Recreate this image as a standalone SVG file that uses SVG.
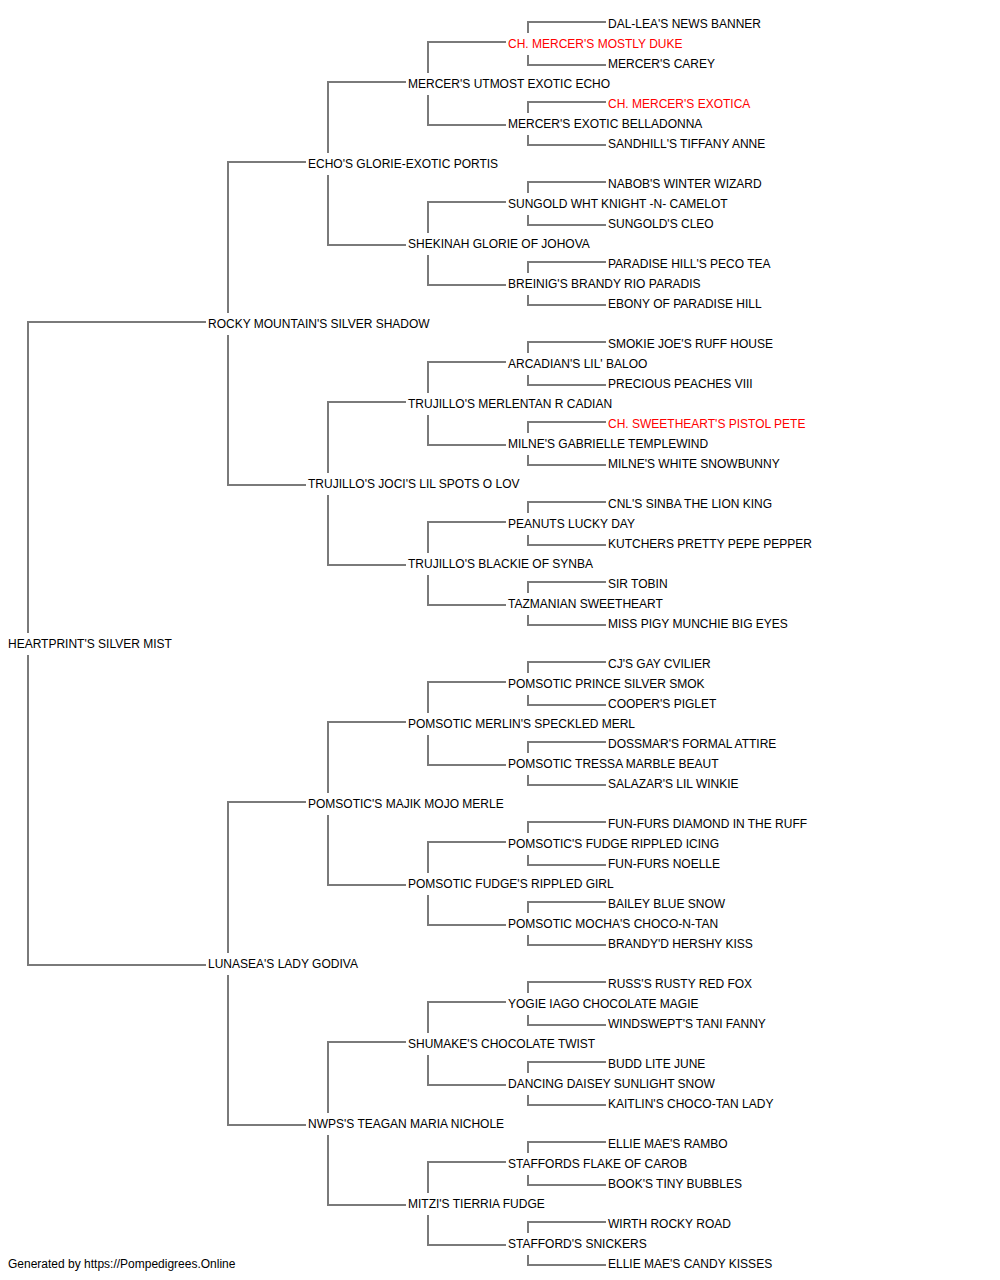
<svg xmlns="http://www.w3.org/2000/svg" width="1000" height="1280" viewBox="0 0 1000 1280">
<style>
text{font-family:"Liberation Sans",Arial,sans-serif;font-size:12px;fill:#000}
text.ch{fill:#ff0000}
#connectors path{fill:none;stroke:#7a7a7a;stroke-width:2}
</style>
<rect width="1000" height="1280" fill="#fff"/>
<g id="connectors">
<path d="M206,322H28V633M28,655V965H206"/>
<path d="M306,162H228V313M228,335V485H306"/>
<path d="M306,802H228V953M228,975V1125H306"/>
<path d="M406,82H328V153M328,175V245H406"/>
<path d="M406,402H328V473M328,495V565H406"/>
<path d="M406,722H328V793M328,815V885H406"/>
<path d="M406,1042H328V1113M328,1135V1205H406"/>
<path d="M506,42H428V73M428,95V125H506"/>
<path d="M506,202H428V233M428,255V285H506"/>
<path d="M506,362H428V393M428,415V445H506"/>
<path d="M506,522H428V553M428,575V605H506"/>
<path d="M506,682H428V713M428,735V765H506"/>
<path d="M506,842H428V873M428,895V925H506"/>
<path d="M506,1002H428V1033M428,1055V1085H506"/>
<path d="M506,1162H428V1193M428,1215V1245H506"/>
<path d="M606,22H528V33M528,55V65H606"/>
<path d="M606,102H528V113M528,135V145H606"/>
<path d="M606,182H528V193M528,215V225H606"/>
<path d="M606,262H528V273M528,295V305H606"/>
<path d="M606,342H528V353M528,375V385H606"/>
<path d="M606,422H528V433M528,455V465H606"/>
<path d="M606,502H528V513M528,535V545H606"/>
<path d="M606,582H528V593M528,615V625H606"/>
<path d="M606,662H528V673M528,695V705H606"/>
<path d="M606,742H528V753M528,775V785H606"/>
<path d="M606,822H528V833M528,855V865H606"/>
<path d="M606,902H528V913M528,935V945H606"/>
<path d="M606,982H528V993M528,1015V1025H606"/>
<path d="M606,1062H528V1073M528,1095V1105H606"/>
<path d="M606,1142H528V1153M528,1175V1185H606"/>
<path d="M606,1222H528V1233M528,1255V1265H606"/>
</g>
<g id="n0"><text x="8" y="647.5">HEARTPRINT'S SILVER MIST</text></g>
<g id="n1"><text x="208" y="327.5">ROCKY MOUNTAIN'S SILVER SHADOW</text></g>
<g id="n2"><text x="208" y="967.5">LUNASEA'S LADY GODIVA</text></g>
<g id="n3"><text x="308" y="167.5">ECHO'S GLORIE-EXOTIC PORTIS</text></g>
<g id="n4"><text x="308" y="487.5">TRUJILLO'S JOCI'S LIL SPOTS O LOV</text></g>
<g id="n5"><text x="308" y="807.5">POMSOTIC'S MAJIK MOJO MERLE</text></g>
<g id="n6"><text x="308" y="1127.5">NWPS'S TEAGAN MARIA NICHOLE</text></g>
<g id="n7"><text x="408" y="87.5">MERCER'S UTMOST EXOTIC ECHO</text></g>
<g id="n8"><text x="408" y="247.5">SHEKINAH GLORIE OF JOHOVA</text></g>
<g id="n9"><text x="408" y="407.5">TRUJILLO'S MERLENTAN R CADIAN</text></g>
<g id="n10"><text x="408" y="567.5">TRUJILLO'S BLACKIE OF SYNBA</text></g>
<g id="n11"><text x="408" y="727.5">POMSOTIC MERLIN'S SPECKLED MERL</text></g>
<g id="n12"><text x="408" y="887.5">POMSOTIC FUDGE'S RIPPLED GIRL</text></g>
<g id="n13"><text x="408" y="1047.5">SHUMAKE'S CHOCOLATE TWIST</text></g>
<g id="n14"><text x="408" y="1207.5">MITZI'S TIERRIA FUDGE</text></g>
<g id="n15"><text class="ch" x="508" y="47.5">CH. MERCER'S MOSTLY DUKE</text></g>
<g id="n16"><text x="508" y="127.5">MERCER'S EXOTIC BELLADONNA</text></g>
<g id="n17"><text x="508" y="207.5">SUNGOLD WHT KNIGHT -N- CAMELOT</text></g>
<g id="n18"><text x="508" y="287.5">BREINIG'S BRANDY RIO PARADIS</text></g>
<g id="n19"><text x="508" y="367.5">ARCADIAN'S LIL' BALOO</text></g>
<g id="n20"><text x="508" y="447.5">MILNE'S GABRIELLE TEMPLEWIND</text></g>
<g id="n21"><text x="508" y="527.5">PEANUTS LUCKY DAY</text></g>
<g id="n22"><text x="508" y="607.5">TAZMANIAN SWEETHEART</text></g>
<g id="n23"><text x="508" y="687.5">POMSOTIC PRINCE SILVER SMOK</text></g>
<g id="n24"><text x="508" y="767.5">POMSOTIC TRESSA MARBLE BEAUT</text></g>
<g id="n25"><text x="508" y="847.5">POMSOTIC'S FUDGE RIPPLED ICING</text></g>
<g id="n26"><text x="508" y="927.5">POMSOTIC MOCHA'S CHOCO-N-TAN</text></g>
<g id="n27"><text x="508" y="1007.5">YOGIE IAGO CHOCOLATE MAGIE</text></g>
<g id="n28"><text x="508" y="1087.5">DANCING DAISEY SUNLIGHT SNOW</text></g>
<g id="n29"><text x="508" y="1167.5">STAFFORDS FLAKE OF CAROB</text></g>
<g id="n30"><text x="508" y="1247.5">STAFFORD'S SNICKERS</text></g>
<g id="n31"><text x="608" y="27.5">DAL-LEA'S NEWS BANNER</text></g>
<g id="n32"><text x="608" y="67.5">MERCER'S CAREY</text></g>
<g id="n33"><text class="ch" x="608" y="107.5">CH. MERCER'S EXOTICA</text></g>
<g id="n34"><text x="608" y="147.5">SANDHILL'S TIFFANY ANNE</text></g>
<g id="n35"><text x="608" y="187.5">NABOB'S WINTER WIZARD</text></g>
<g id="n36"><text x="608" y="227.5">SUNGOLD'S CLEO</text></g>
<g id="n37"><text x="608" y="267.5">PARADISE HILL'S PECO TEA</text></g>
<g id="n38"><text x="608" y="307.5">EBONY OF PARADISE HILL</text></g>
<g id="n39"><text x="608" y="347.5">SMOKIE JOE'S RUFF HOUSE</text></g>
<g id="n40"><text x="608" y="387.5">PRECIOUS PEACHES VIII</text></g>
<g id="n41"><text class="ch" x="608" y="427.5">CH. SWEETHEART'S PISTOL PETE</text></g>
<g id="n42"><text x="608" y="467.5">MILNE'S WHITE SNOWBUNNY</text></g>
<g id="n43"><text x="608" y="507.5">CNL'S SINBA THE LION KING</text></g>
<g id="n44"><text x="608" y="547.5">KUTCHERS PRETTY PEPE PEPPER</text></g>
<g id="n45"><text x="608" y="587.5">SIR TOBIN</text></g>
<g id="n46"><text x="608" y="627.5">MISS PIGY MUNCHIE BIG EYES</text></g>
<g id="n47"><text x="608" y="667.5">CJ'S GAY CVILIER</text></g>
<g id="n48"><text x="608" y="707.5">COOPER'S PIGLET</text></g>
<g id="n49"><text x="608" y="747.5">DOSSMAR'S FORMAL ATTIRE</text></g>
<g id="n50"><text x="608" y="787.5">SALAZAR'S LIL WINKIE</text></g>
<g id="n51"><text x="608" y="827.5">FUN-FURS DIAMOND IN THE RUFF</text></g>
<g id="n52"><text x="608" y="867.5">FUN-FURS NOELLE</text></g>
<g id="n53"><text x="608" y="907.5">BAILEY BLUE SNOW</text></g>
<g id="n54"><text x="608" y="947.5">BRANDY'D HERSHY KISS</text></g>
<g id="n55"><text x="608" y="987.5">RUSS'S RUSTY RED FOX</text></g>
<g id="n56"><text x="608" y="1027.5">WINDSWEPT'S TANI FANNY</text></g>
<g id="n57"><text x="608" y="1067.5">BUDD LITE JUNE</text></g>
<g id="n58"><text x="608" y="1107.5">KAITLIN'S CHOCO-TAN LADY</text></g>
<g id="n59"><text x="608" y="1147.5">ELLIE MAE'S RAMBO</text></g>
<g id="n60"><text x="608" y="1187.5">BOOK'S TINY BUBBLES</text></g>
<g id="n61"><text x="608" y="1227.5">WIRTH ROCKY ROAD</text></g>
<g id="n62"><text x="608" y="1267.5">ELLIE MAE'S CANDY KISSES</text></g>
<g id="footer"><text x="8" y="1268">Generated by https://Pompedigrees.Online</text></g>
</svg>
